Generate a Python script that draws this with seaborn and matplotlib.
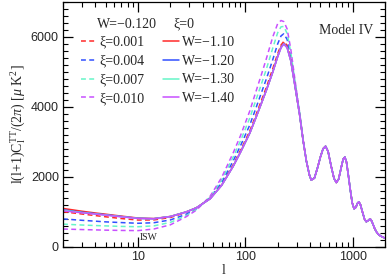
import numpy as np
import pandas as pd
import seaborn as sns
import matplotlib
matplotlib.use("Agg")
import matplotlib.pyplot as plt
from matplotlib.lines import Line2D
from matplotlib.ticker import MultipleLocator, LogLocator, NullFormatter

sns.set_style("ticks")
plt.rcParams["font.family"] = ["Liberation Serif", "DejaVu Serif"]
plt.rcParams["mathtext.fontset"] = "custom"
plt.rcParams["mathtext.rm"] = "Liberation Serif"
plt.rcParams["mathtext.it"] = "Liberation Serif:italic"

# multipoles, low/first-peak part (series differ here)
ell_lo = [2, 3, 4, 5, 7, 10, 14, 20, 28, 35, 47, 60, 77, 90, 110, 125, 141, 157,
          180, 200, 215, 228, 245, 265, 290, 320, 345, 370, 395]
# multipoles, damping tail (all series coincide)
ell_hi = [411, 440, 470, 500, 530, 559, 590, 630, 670, 703, 740, 780, 815, 845,
          875, 910, 950, 990, 1030, 1070, 1110, 1142, 1180, 1230, 1290, 1339,
          1390, 1440, 1480, 1540, 1600, 1656, 1720, 1800, 1900, 2000]
tail = [1900, 1960, 2250, 2560, 2800, 2870, 2720, 2300, 1950, 1830, 1930, 2250,
        2500, 2560, 2420, 2050, 1620, 1250, 1080, 1120, 1240, 1280, 1200, 1000,
        780, 710, 740, 785, 770, 650, 520, 430, 360, 310, 270, 240]

# dashed, W=-0.120
xi_001 = [995, 930, 885, 850, 800, 757, 760, 830, 975, 1105, 1380, 1770, 2340, 2750,
          3310, 3750, 4180, 4560, 5090, 5520, 5770, 5870, 5760, 5360, 4620, 3790,
          3045, 2450, 2050]
xi_004 = [790, 750, 725, 705, 685, 665, 680, 760, 920, 1080, 1400, 1830, 2450, 2880,
          3480, 3950, 4400, 4800, 5350, 5800, 6030, 6090, 5930, 5450, 4660, 3810,
          3050, 2450, 2050]
xi_007 = [640, 615, 600, 590, 575, 566, 590, 690, 880, 1060, 1420, 1900, 2560, 3020,
          3680, 4180, 4650, 5080, 5680, 6120, 6290, 6300, 6100, 5560, 4720, 3830,
          3060, 2450, 2050]
xi_010 = [500, 485, 475, 468, 460, 455, 500, 620, 850, 1040, 1440, 1970, 2680, 3170,
          3880, 4420, 4920, 5380, 6000, 6380, 6470, 6440, 6230, 5650, 4770, 3850,
          3070, 2460, 2050]
# solid, xi=0
w_110 = [1090, 1010, 960, 925, 870, 815, 800, 860, 990, 1110, 1370, 1750, 2300, 2700,
         3250, 3680, 4100, 4480, 5000, 5450, 5720, 5830, 5720, 5330, 4600, 3780,
         3040, 2450, 2050]
w_120 = [1050, 980, 940, 908, 858, 808, 796, 858, 988, 1108, 1368, 1748, 2298, 2698,
         3248, 3678, 4098, 4478, 4995, 5440, 5700, 5805, 5700, 5320, 4595, 3780,
         3040, 2450, 2050]
w_130 = [1035, 972, 932, 902, 853, 805, 794, 857, 987, 1107, 1367, 1747, 2297, 2697,
         3247, 3677, 4097, 4477, 4993, 5436, 5695, 5800, 5695, 5318, 4594, 3780,
         3040, 2450, 2050]
w_140 = [1020, 965, 928, 898, 850, 803, 793, 856, 986, 1106, 1366, 1746, 2296, 2696,
         3246, 3676, 4096, 4476, 4990, 5432, 5690, 5795, 5690, 5316, 4593, 3780,
         3040, 2450, 2050]

labels = ["ξ=0.001", "ξ=0.004", "ξ=0.007", "ξ=0.010",
          "W=−1.10", "W=−1.20", "W=−1.30", "W=−1.40"]
series = [xi_001, xi_004, xi_007, xi_010, w_110, w_120, w_130, w_140]
colors = ["#ff2a2a", "#3050ff", "#66f5c8", "#c850ff"] * 2
styles = [(0, (3.2, 2.2))] * 4 + ["-"] * 4

fig, ax = plt.subplots(figsize=(3.88, 2.77), dpi=100)
fig.subplots_adjust(left=63 / 388, right=385 / 388, top=1 - 2 / 277, bottom=1 - 246.5 / 277)

handles = []
for lab, vals, c, ls in zip(labels, series, colors, styles):
    df = pd.DataFrame({"l": ell_lo + ell_hi, "D": vals + tail})
    sns.lineplot(data=df, x="l", y="D", ax=ax, color=c, lw=1.1, sort=True)
    ax.lines[-1].set_linestyle(ls)
    handles.append(Line2D([], [], color=c, lw=1.1, ls=ls))

ax.set_xscale("log")
ax.set_xlim(2, 2000)
ax.set_ylim(0, 7000)
ax.yaxis.set_major_locator(MultipleLocator(2000))
ax.yaxis.set_minor_locator(MultipleLocator(200))
ax.xaxis.set_minor_locator(LogLocator(base=10, subs=np.arange(2, 10)))
ax.xaxis.set_minor_formatter(NullFormatter())
ax.set_xticks([10, 100, 1000])
ax.set_xticklabels(["10", "100", "1000"])
ax.tick_params(which="both", direction="in", top=True, right=True, color="black")
ax.tick_params(which="major", length=7, width=0.9, labelsize=9, pad=3)
ax.tick_params(which="minor", length=3.5, width=0.8)
for t in ax.get_xticklabels() + ax.get_yticklabels():
    t.set_fontfamily(["Liberation Sans", "DejaVu Sans"])
for s in ax.spines.values():
    s.set_color("black")
    s.set_linewidth(0.9)

ax.set_xlabel("l", fontsize=10, labelpad=1)
ax.set_ylabel(r"l(l+1)C$_{\rm l}^{\rm TT}$/(2$\pi$) [$\mu$ K$^2$]", fontsize=10, labelpad=2)

ax.legend(handles, labels, ncol=2, loc="upper left", bbox_to_anchor=(0.055, 0.862),
          frameon=False, fontsize=10, handlelength=1.1, handletextpad=0.25,
          columnspacing=1.35, labelspacing=0.42, borderpad=0, borderaxespad=0)

# column headers of the legend
ax.text((97 - 63) / 322, (246.5 - 24) / 244.5, "W=−0.120", transform=ax.transAxes,
        ha="left", va="center", fontsize=10)
ax.text((173 - 63) / 322, (246.5 - 24) / 244.5, "ξ=0", transform=ax.transAxes,
        ha="left", va="center", fontsize=10)
ax.text((373 - 63) / 322, (246.5 - 31) / 244.5, "Model IV", transform=ax.transAxes,
        ha="right", va="center", fontsize=10)
ax.text(10.3, 270, "ISW", fontsize=7, ha="left", va="center")

fig.savefig("out.png", dpi=100)
